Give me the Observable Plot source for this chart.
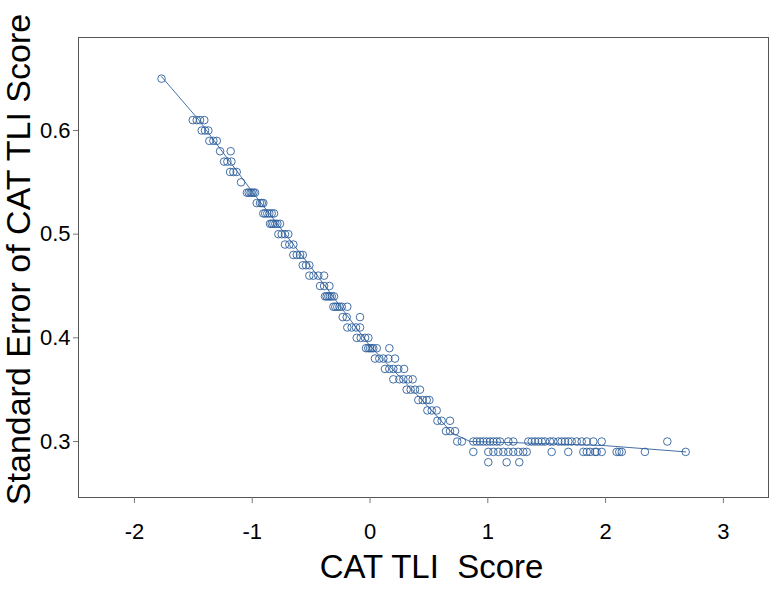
<!DOCTYPE html>
<html>
<head>
<meta charset="utf-8">
<script src="https://cdn.jsdelivr.net/npm/d3@7"></script>
<script src="https://cdn.jsdelivr.net/npm/@observablehq/plot@0.6"></script>
<style>
  html, body { margin: 0; padding: 0; background: #fff; }
  svg text { white-space: pre; }
</style>
</head>
<body>
<div id="chart"></div>
<script>
// Standard error levels (rounded values seen on the chart)
const seLevels = [0.65, 0.61, 0.60, 0.59, 0.58, 0.57, 0.56, 0.55, 0.54, 0.53, 0.52, 0.51, 0.50,
  0.49, 0.48, 0.47, 0.46, 0.45, 0.44, 0.43, 0.42, 0.41, 0.40, 0.39, 0.38, 0.37, 0.36, 0.35,
  0.34, 0.33, 0.32, 0.31, 0.30, 0.29, 0.28];

// CAT TLI scores observed at each standard error level (same order as seLevels)
const scoresAtLevel = [
  [-1.77],
  [-1.505, -1.471, -1.443, -1.407],
  [-1.429, -1.401, -1.373],
  [-1.364, -1.330, -1.301],
  [-1.273, -1.183],
  [-1.239, -1.211, -1.177],
  [-1.188, -1.160, -1.132],
  [-1.095],
  [-1.045, -1.030, -1.015, -1.004, -0.990, -0.976],
  [-0.962, -0.934, -0.919, -0.906],
  [-0.906, -0.890, -0.872, -0.855, -0.835, -0.815],
  [-0.849, -0.835, -0.821, -0.804, -0.787, -0.764],
  [-0.778, -0.750, -0.722, -0.694],
  [-0.722, -0.685, -0.651],
  [-0.651, -0.622, -0.594, -0.571],
  [-0.571, -0.543, -0.515],
  [-0.515, -0.481, -0.439, -0.390],
  [-0.424, -0.390, -0.345],
  [-0.382, -0.368, -0.354, -0.340, -0.325, -0.306],
  [-0.311, -0.295, -0.278, -0.260, -0.240, -0.193],
  [-0.232, -0.198, -0.085],
  [-0.193, -0.156, -0.119, -0.085],
  [-0.113, -0.079, -0.042, -0.014],
  [-0.034, -0.015, 0.0, 0.015, 0.028, 0.057, 0.164],
  [0.042, 0.079, 0.113, 0.156, 0.212],
  [0.127, 0.164, 0.198, 0.240, 0.289],
  [0.198, 0.249, 0.283, 0.325, 0.362],
  [0.311, 0.345, 0.382, 0.424],
  [0.410, 0.447, 0.481, 0.504],
  [0.487, 0.524, 0.566],
  [0.572, 0.608, 0.679],
  [0.645, 0.679, 0.722],
  [0.740, 0.780, 0.877, 0.906, 0.934, 0.962, 0.991, 1.019, 1.047, 1.076, 1.104, 1.174, 1.216,
   1.344, 1.373, 1.401, 1.429, 1.458, 1.486, 1.528, 1.556, 1.598, 1.627, 1.655, 1.683, 1.712,
   1.755, 1.797, 1.840, 1.896, 1.967, 2.524],
  [0.877, 1.004, 1.047, 1.089, 1.132, 1.174, 1.216, 1.259, 1.301, 1.330, 1.542, 1.683, 1.811,
   1.840, 1.868, 1.910, 1.924, 1.967, 2.094, 2.116, 2.137, 2.334, 2.680],
  [1.004, 1.160, 1.267]
];

// Fitted curve through the scatter
const fitX = [-1.77, -1.46, -1.00, -0.50, 0.00, 0.40, 0.70, 0.85, 1.20, 2.00, 2.68];
const fitY = [0.652, 0.611, 0.541, 0.468, 0.392, 0.345, 0.308, 0.300, 0.299, 0.296, 0.290];

const xTicks = [-2, -1, 0, 1, 2, 3];
const yTicks = [0.3, 0.4, 0.5, 0.6];

const points = seLevels.flatMap((se, i) => scoresAtLevel[i].map(x => ({x, se})));
const fit = fitX.map((x, i) => ({x, se: fitY[i]}));

const blue = "#2f609c";

const chart = Plot.plot({
  width: 776,
  height: 589,
  marginLeft: 78,
  marginRight: 8,
  marginTop: 37,
  marginBottom: 92,
  style: {fontFamily: "'Liberation Sans', Arial, sans-serif", background: "#fff", color: "#000"},
  x: {domain: [-2.475, 3.383]},
  y: {domain: [0.246, 0.6897]},
  marks: [
    Plot.frame({stroke: "#555", strokeWidth: 1}),
    Plot.axisX({ticks: xTicks, tickSize: 6, tickPadding: 20, fontSize: 22, label: null, stroke: "#777", tickFormat: d => String(d)}),
    Plot.axisY({ticks: yTicks, tickSize: 5, tickPadding: 3, fontSize: 22, label: null, tickFormat: d3.format(".1f"), stroke: "#777"}),
    Plot.line(fit, {x: "x", y: "se", stroke: blue, strokeWidth: 0.9}),
    Plot.dot(points, {x: "x", y: "se", r: 3.8, stroke: blue, strokeWidth: 0.9, fill: "none"}),
    Plot.text(["CAT TLI  Score"], {frameAnchor: "bottom", text: d => d, fontSize: 33, dy: 80, dx: 8, fill: "#000"}),
    Plot.text(["Standard Error of CAT TLI Score"], {frameAnchor: "left", text: d => d, textAnchor: "middle", lineAnchor: "middle", rotate: -90, fontSize: 34, dx: -59, dy: -8, fill: "#000"})
  ]
});

document.getElementById("chart").appendChild(chart);
</script>
</body>
</html>
